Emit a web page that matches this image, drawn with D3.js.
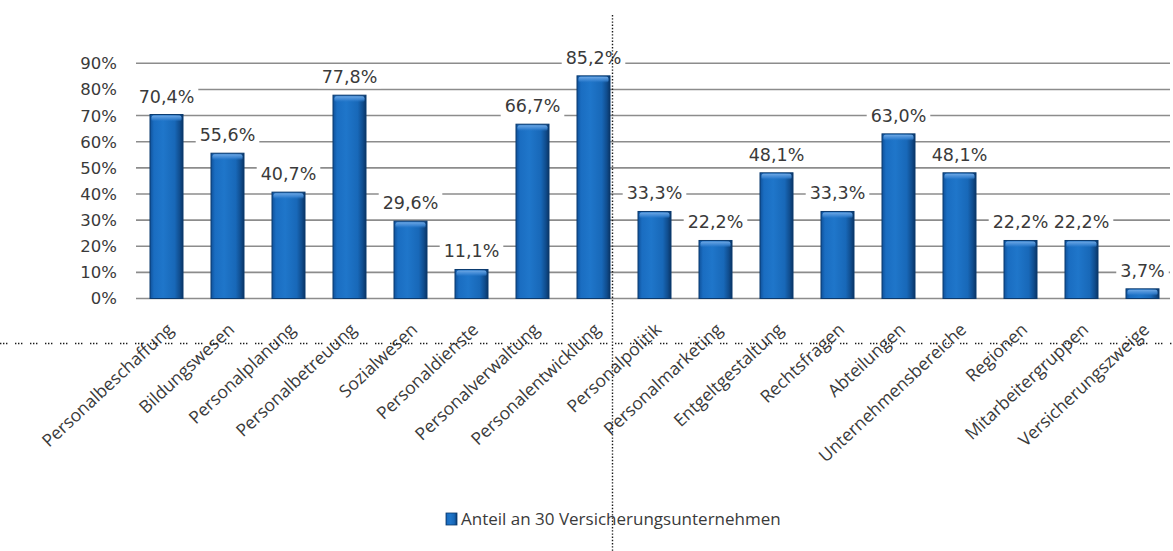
<!DOCTYPE html>
<html>
<head>
<meta charset="utf-8">
<script src="https://cdn.jsdelivr.net/npm/d3@7"></script>
<style>
  html, body { margin: 0; padding: 0; background: #fff; }
  svg { display: block; }
</style>
</head>
<body>
<svg id="chart" width="1173" height="551"></svg>
<script>
// Bereiche der Personalarbeit
const categories = [
  "Personalbeschaffung", "Bildungswesen", "Personalplanung", "Personalbetreuung",
  "Sozialwesen", "Personaldienste", "Personalverwaltung", "Personalentwicklung",
  "Personalpolitik", "Personalmarketing", "Entgeltgestaltung", "Rechtsfragen",
  "Abteilungen", "Unternehmensbereiche", "Regionen", "Mitarbeitergruppen",
  "Versicherungszweige"
];

// Anteil in Prozent
const shares = [70.4, 55.6, 40.7, 77.8, 29.6, 11.1, 66.7, 85.2, 33.3, 22.2, 48.1, 33.3, 63.0, 48.1, 22.2, 22.2, 3.7];

const yTicks = [0, 10, 20, 30, 40, 50, 60, 70, 80, 90];
const seriesName = "Anteil an 30 Versicherungsunternehmen";

const W = 1173, H = 551;
const svg = d3.select("#chart");

const x = d3.scaleBand()
  .domain(categories)
  .range([136, 1173])
  .paddingInner(0.459)
  .paddingOuter(0.2295);

const y = d3.scaleLinear().domain([0, 90]).range([298.5, 63.3]);

const pct = v => d3.format(".1f")(v).replace(".", ",") + "%";
const tickFmt = v => v + "%";

// Verläufe für die Säulen
const defs = svg.append("defs");
const side = defs.append("linearGradient").attr("id", "barSide")
  .attr("x1", "0").attr("y1", "0").attr("x2", "1").attr("y2", "0");
[["0%", "#0f519a"], ["12%", "#1a6dc1"], ["40%", "#1f76ca"], ["75%", "#1868b8"], ["90%", "#104d8e"], ["100%", "#0a3566"]]
  .forEach(([o, c]) => side.append("stop").attr("offset", o).attr("stop-color", c));

const cap = defs.append("linearGradient").attr("id", "barCap")
  .attr("x1", "0").attr("y1", "0").attr("x2", "0").attr("y2", "1");
[["0%", "#6fa8e4", 1], ["60%", "#3f89d6", 0.8], ["100%", "#2a78c8", 0]]
  .forEach(([o, c, a]) => cap.append("stop").attr("offset", o).attr("stop-color", c).attr("stop-opacity", a));

// Gitternetzlinien
svg.append("g")
  .selectAll("line")
  .data(yTicks)
  .join("line")
  .attr("x1", 136).attr("x2", 1170)
  .attr("y1", d => y(d)).attr("y2", d => y(d))
  .attr("stroke", "#8c8c8c")
  .attr("stroke-width", 1.6);

// Achsenbeschriftung Y
svg.append("g")
  .selectAll("text")
  .data(yTicks)
  .join("text")
  .attr("x", 117)
  .attr("y", d => y(d))
  .attr("dy", "0.36em")
  .attr("text-anchor", "end")
  .attr("font-family", "DejaVu Sans, Verdana, sans-serif")
  .attr("font-size", 16.5)
  .attr("fill", "#3a3a3a")
  .text(tickFmt);

// Säulen
const bars = svg.append("g");
const data = categories.map((c, i) => ({ c, v: shares[i] }));

bars.selectAll("rect.body")
  .data(data)
  .join("rect")
  .attr("class", "body")
  .attr("x", d => x(d.c))
  .attr("y", d => y(d.v))
  .attr("width", x.bandwidth())
  .attr("height", d => y(0) - y(d.v))
  .attr("fill", "url(#barSide)")
  .attr("stroke", "#0b3a6e")
  .attr("stroke-width", 1);

bars.selectAll("rect.cap")
  .data(data)
  .join("rect")
  .attr("class", "cap")
  .attr("x", d => x(d.c) + 1.5)
  .attr("y", d => y(d.v) + 1)
  .attr("width", x.bandwidth() - 3)
  .attr("height", d => Math.min(6, y(0) - y(d.v) - 1))
  .attr("rx", 2)
  .attr("fill", "url(#barCap)");

// Datenbeschriftungen mit weißem Hintergrund
const labels = svg.append("g");
const lab = labels.selectAll("g")
  .data(data)
  .join("g");

lab.append("text")
  .attr("x", d => x(d.c) + x.bandwidth() / 2)
  .attr("y", d => y(d.v) - 12)
  .attr("text-anchor", "middle")
  .attr("font-family", "DejaVu Sans, Verdana, sans-serif")
  .attr("font-size", 17.5)
  .attr("fill", "#3a3a3a")
  .text(d => pct(d.v));

lab.each(function () {
  const g = d3.select(this);
  const bb = g.select("text").node().getBBox();
  g.insert("rect", "text")
    .attr("x", bb.x - 4).attr("y", bb.y - 1)
    .attr("width", bb.width + 8).attr("height", bb.height + 2)
    .attr("fill", "#fff");
});

// Kategorienbeschriftung
svg.append("g")
  .selectAll("text")
  .data(categories)
  .join("text")
  .attr("transform", d => `translate(${x(d) + x.bandwidth() / 2 + 8},${331}) rotate(-43)`)
  .attr("text-anchor", "end")
  .attr("font-family", "'Open Sans', Lato, sans-serif")
  .attr("font-size", 17.5)
  .attr("fill", "#3a3a3a")
  .text(d => d);

// Legende
const legend = svg.append("g").attr("transform", "translate(446,513)");
legend.append("rect")
  .attr("width", 11).attr("height", 12)
  .attr("fill", "url(#barSide)")
  .attr("stroke", "#0b3a6e").attr("stroke-width", 0.8);
legend.append("text")
  .attr("x", 15).attr("y", 11.5)
  .attr("font-family", "'Open Sans', Lato, sans-serif")
  .attr("font-size", 17)
  .attr("fill", "#3a3a3a")
  .text(seriesName);

// Gepunktete Hilfslinien
svg.append("line")
  .attr("x1", 0).attr("x2", W)
  .attr("y1", 343.5).attr("y2", 343.5)
  .attr("stroke", "#1a1a1a")
  .attr("stroke-width", 1.4)
  .attr("stroke-dasharray", "1.4,1.6,1.4,1.6,1.4,7.6");

svg.append("line")
  .attr("x1", 612.5).attr("x2", 612.5)
  .attr("y1", 15).attr("y2", H)
  .attr("stroke", "#1a1a1a")
  .attr("stroke-width", 1.4)
  .attr("stroke-dasharray", "1.4,1.8");
</script>
</body>
</html>
